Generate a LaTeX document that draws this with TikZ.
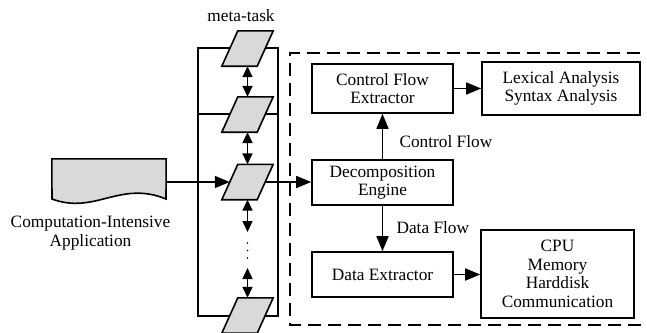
\documentclass[tikz,border=0pt]{standalone}
\usepackage{fontspec}
\setmainfont{Liberation Serif}
\usetikzlibrary{arrows.meta}
\definecolor{shade}{HTML}{D9D9D9}
\begin{document}
\begin{tikzpicture}[x=1pt,y=-1pt,
  every node/.style={font=\fontsize{17.3}{18.5}\selectfont, text=black},
  box/.style={draw, line width=1.6pt, align=center, inner sep=0pt},
  pg/.style={draw=none, minimum width=35pt, minimum height=35pt, inner sep=0pt},
  arr/.style={line width=1.6pt, -{Triangle[length=15pt,width=12pt]}},
  dbl/.style={line width=1.6pt, {Triangle[length=11pt,width=10pt]}-{Triangle[length=11pt,width=10pt]}},
  ln/.style={line width=1.6pt}]
\useasboundingbox (0,0) rectangle (647,332);
% stack frame
\draw[ln] (198,48) rectangle (278,316);
\draw[ln] (198,114) -- (278,114);
% parallelogram nodes
\node[pg] (p1) at (247.5,48.5) {};
\node[pg] (p2) at (247.5,114.5) {};
\node[pg] (p3) at (247.5,182) {};
\node[pg] (p4) at (247.5,315.5) {};
\foreach \p in {p1,p2,p3,p4}{
  \draw[ln, fill=shade, line join=miter] ([xshift=8pt]\p.north west) -- ([xshift=8pt]\p.north east)
    -- ([xshift=-8pt]\p.south east) -- ([xshift=-8pt]\p.south west) -- cycle;
}
\node (meta) at (241,16) {meta-task};
\coordinate (d1) at (247.5,232);
\coordinate (d2) at (247.5,268);
\draw[dbl] (p1.south) -- (p2.north);
\draw[dbl] (p2.south) -- (p3.north);
\draw[dbl] (p3.south) -- (d1);
\draw[dbl] (d2) -- (p4.north);
\foreach \yy in {243,250.5,258} \fill (247.5,\yy) circle (0.9pt);
% document
\node[draw=none, minimum width=114pt, minimum height=40pt, inner sep=0pt] (doc) at (109,179) {};
\draw[ln, fill=shade] (doc.north west) -- (doc.north east) -- (166,199)
  .. controls (120,180) and (95,215) .. (52,199) -- cycle;
\node[align=center] (doclab) at (90.5,233) {Computation-Intensive\\Application};
\draw[arr] (doc.east |- p3.west) -- (p3.west);
% dashed region
\draw[line width=1.6pt, dash pattern=on 13pt off 7pt] (660,53) -- (290,53) -- (290,325) -- (660,325);
% boxes
\node[box, minimum width=141pt, minimum height=49pt] (cfe) at (382.5,88.5) {Control Flow\\Extractor};
\node[box, minimum width=158pt, minimum height=53pt] (lex) at (561,88.5) {Lexical Analysis\\Syntax Analysis};
\node[box, minimum width=141pt, minimum height=45pt] (de) at (382.5,182.5) {Decomposition\\Engine};
\node[box, minimum width=141pt, minimum height=45pt] (dx) at (382.5,274.5) {Data Extractor};
\node[box, minimum width=153pt, minimum height=88pt] (cpu) at (557.5,274) {CPU\\Memory\\Harddisk\\Communication};
\draw[arr] (p3.east) -- (de.west |- p3.east);
\draw[arr] (de.north) -- (cfe.south);
\draw[arr] (de.south) -- (dx.north);
\draw[arr] (cfe.east) -- (cfe.east -| lex.west);
\draw[arr] (dx.east) -- (dx.east -| cpu.west);
\node[anchor=west] (cflab) at (396,142) {Control Flow};
\node[anchor=west] (dflab) at (393,228) {Data Flow};
\end{tikzpicture}
\end{document}
